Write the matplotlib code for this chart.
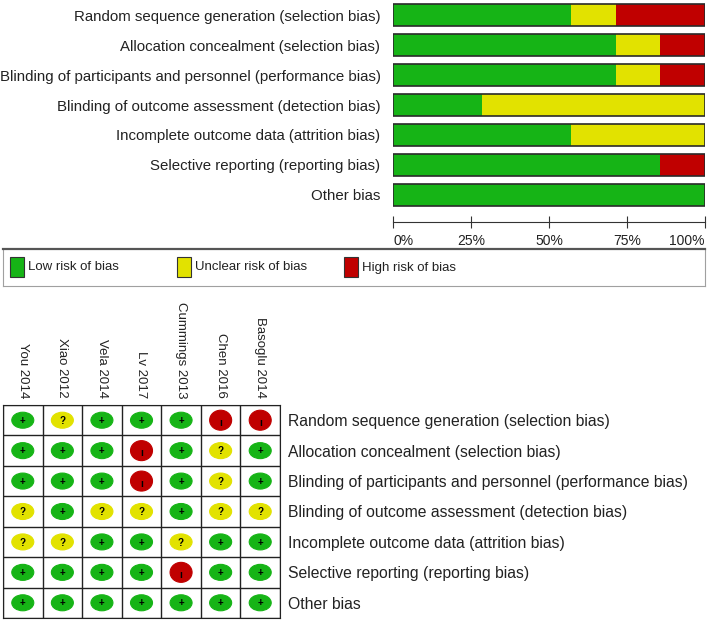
import matplotlib
matplotlib.use('Agg')
import matplotlib.pyplot as plt
from matplotlib.patches import Ellipse, Rectangle
import numpy as np

plt.rcParams['font.family'] = ['Liberation Sans', 'DejaVu Sans']

DOMAINS = [
    'Random sequence generation (selection bias)',
    'Allocation concealment (selection bias)',
    'Blinding of participants and personnel (performance bias)',
    'Blinding of outcome assessment (detection bias)',
    'Incomplete outcome data (attrition bias)',
    'Selective reporting (reporting bias)',
    'Other bias',
]
STUDIES = ['You 2014', 'Xiao 2012', 'Vela 2014', 'Lv 2017',
           'Cummings 2013', 'Chen 2016', 'Basoglu 2014']

# risk of bias graph, percent of studies
LOW_PCT = [57.1, 71.4, 71.4, 28.6, 57.1, 85.7, 100.0]
UNCLEAR_PCT = [14.3, 14.3, 14.3, 71.4, 42.9, 0.0, 0.0]
HIGH_PCT = [28.6, 14.3, 14.3, 0.0, 0.0, 14.3, 0.0]

# risk of bias summary: rows = domains, columns = studies
JUDGEMENTS = [
    ['+', '?', '+', '+', '+', '-', '-'],
    ['+', '+', '+', '-', '+', '?', '+'],
    ['+', '+', '+', '-', '+', '?', '+'],
    ['?', '+', '?', '?', '+', '?', '?'],
    ['?', '?', '+', '+', '?', '+', '+'],
    ['+', '+', '+', '+', '-', '+', '+'],
    ['+', '+', '+', '+', '+', '+', '+'],
]

LEGEND = ['Low risk of bias', 'Unclear risk of bias', 'High risk of bias']
PCT_TICKS = [0, 25, 50, 75, 100]

GREEN = '#16b416'
YELLOW = '#e2e200'
RED = '#c00000'
COLORS = {'+': GREEN, '?': YELLOW, '-': RED}

W, H = 708, 621


def px_rect(x0, y0, x1, y1):
    return [x0 / W, 1 - y1 / H, (x1 - x0) / W, (y1 - y0) / H]


fig = plt.figure(figsize=(W / 100, H / 100), dpi=100)

# ---- top: risk of bias graph ----
ax = fig.add_axes(px_rect(393, 0, 705, 210))
y = np.arange(len(DOMAINS))
low = np.array(LOW_PCT)
unc = np.array(UNCLEAR_PCT)
high = np.array(HIGH_PCT)
ax.barh(y, low, height=0.72, color=GREEN, lw=0)
ax.barh(y, unc, left=low, height=0.72, color=YELLOW, lw=0)
ax.barh(y, high, left=low + unc, height=0.72, color=RED, lw=0)
ax.barh(y, low + unc + high, height=0.72, fill=False, edgecolor='#2a2a2a', lw=1.2)
ax.set_xlim(0, 100)
ax.set_ylim(len(DOMAINS) - 0.5, -0.5)
for s in ('left', 'right', 'top'):
    ax.spines[s].set_visible(False)
ax.spines['bottom'].set_position(('outward', 9))
ax.spines['bottom'].set_color('#333333')
ax.set_xticks(PCT_TICKS)
ax.set_xticklabels([f'{t}%' for t in PCT_TICKS], fontsize=10, color='#222222')
ax.tick_params(axis='x', direction='inout', length=8, pad=4, color='#333333')
tl = ax.get_xticklabels()
tl[0].set_ha('left')
tl[-1].set_ha('right')
ax.set_yticks(y)
ax.set_yticklabels(DOMAINS, fontsize=10.8, color='#222222')
ax.tick_params(axis='y', length=0, pad=9)

# ---- legend box ----
lax = fig.add_axes(px_rect(3, 249, 705, 286))
lax.set_xlim(0, 702)
lax.set_ylim(37, 0)
lax.set_xticks([])
lax.set_yticks([])
for s in lax.spines.values():
    s.set_color('#a0a0a0')
lax.spines['top'].set_color('#555555')
lax.spines['top'].set_linewidth(1.6)
for x0, col, lab in zip([7, 174, 341], [GREEN, YELLOW, RED], LEGEND):
    lax.add_patch(Rectangle((x0, 8), 14, 20, facecolor=col,
                            edgecolor='#333333', lw=0.8))
    lax.text(x0 + 18, 18.5, lab, fontsize=9.5, va='center', ha='left',
             color='#222222')

# ---- bottom: risk of bias summary ----
gax = fig.add_axes(px_rect(3, 405, 280, 618))
nr, nc = len(DOMAINS), len(STUDIES)
gax.set_xlim(-0.5, nc - 0.5)
gax.set_ylim(nr - 0.5, -0.5)
gax.set_xticks(np.arange(nc))
gax.set_xticklabels(STUDIES, rotation=270, fontsize=9.5, color='#222222')
gax.xaxis.tick_top()
gax.tick_params(axis='x', length=0, pad=5)
gax.set_yticks(np.arange(nr))
gax.set_yticklabels(DOMAINS, fontsize=11.3, color='#222222')
gax.yaxis.tick_right()
gax.tick_params(axis='y', length=0, pad=6)
gax.set_xticks(np.arange(nc + 1) - 0.5, minor=True)
gax.set_yticks(np.arange(nr + 1) - 0.5, minor=True)
gax.tick_params(which='minor', length=0)
gax.grid(which='minor', color='#222222', lw=1)
for s in gax.spines.values():
    s.set_color('#222222')

cw, rh = 277 / nc, 213 / nr
for i, row in enumerate(JUDGEMENTS):
    for j, v in enumerate(row):
        ew = 22 / cw
        eh = (20 if v == '-' else 16) / rh
        gax.add_patch(Ellipse((j, i), ew, eh, facecolor=COLORS[v],
                              edgecolor=COLORS[v], lw=0.8, zorder=3))
        sym = {'+': '+', '?': '?', '-': 'ı'}[v]
        gax.text(j, i + (0.08 if v == '-' else 0.02), sym, fontsize=7,
                 fontweight='bold', ha='center', va='center', color='black',
                 zorder=4)

fig.savefig('out.png', dpi=100)
